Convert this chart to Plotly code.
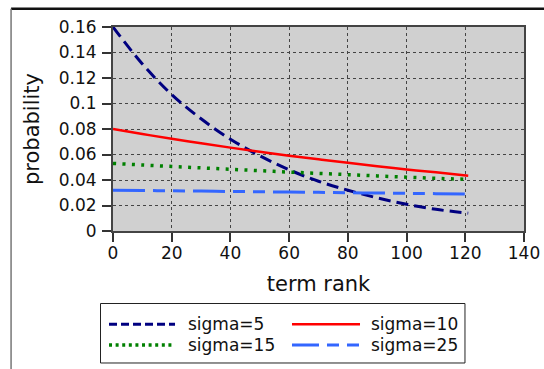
import plotly.graph_objects as go

# ---- data ----
rank = [0, 10, 20, 30, 40, 50, 60, 70, 80, 90, 100, 110, 121]
sigma5 = [0.160, 0.131, 0.107, 0.088, 0.072, 0.059, 0.048, 0.039, 0.032, 0.026, 0.021, 0.017, 0.014]
sigma10 = [0.080, 0.0761, 0.0723, 0.0688, 0.0654, 0.0622, 0.0591, 0.0562, 0.0535, 0.0508, 0.0483, 0.0460, 0.0434]
sigma15 = [0.053, 0.0518, 0.0506, 0.0495, 0.0484, 0.0473, 0.0462, 0.0452, 0.0442, 0.0432, 0.0422, 0.0413, 0.0405]
sigma25 = [0.032, 0.0318, 0.0315, 0.0313, 0.031, 0.0308, 0.0305, 0.0303, 0.030, 0.0298, 0.0295, 0.0293, 0.029]

series_names = ["sigma=5", "sigma=10", "sigma=15", "sigma=25"]
x_ticks = [0, 20, 40, 60, 80, 100, 120, 140]
y_ticks = [0, 0.02, 0.04, 0.06, 0.08, 0.1, 0.12, 0.14, 0.16]
y_tick_labels = ["0", "0.02", "0.04", "0.06", "0.08", "0.1", "0.12", "0.14", "0.16"]

FONT = "DejaVu Sans"

colors = ["#000080", "#ff0000", "#008000", "#3366ff"]
plot_dash = ["12px,6px", "solid", "3px,6.4px", "32px,8px,12px,8px,12px,8px"]
legend_dash = ["8px,4px", "solid", "3px,3.6px", "27px,8px,12px,8px,12px,8px"]
widths = [3, 2.5, 3.5, 3]

fig = go.Figure()
for name, ys, c, d, w in zip(series_names, [sigma5, sigma10, sigma15, sigma25], colors, plot_dash, widths):
    fig.add_trace(go.Scatter(x=rank, y=ys, mode="lines", name=name, showlegend=False,
                             line=dict(shape="spline", color=c, dash=d, width=w)))

axis_common = dict(
    showline=True, linecolor="#444", linewidth=2, mirror=True,
    ticks="outside", ticklen=9, tickwidth=1.5, tickcolor="#333",
    showgrid=True, gridcolor="#444", griddash="dot", gridwidth=1,
    zeroline=False, automargin=False,
    tickfont=dict(family=FONT, size=17, color="#111"),
)

# ---- frame and legend drawn as a boxed key below the plot (paper coordinates) ----
shapes = [
    dict(type="line", xref="paper", yref="paper", x0=-0.248, x1=1.05, y0=1.09, y1=1.09,
         line=dict(color="#111", width=2.5), layer="above"),
    dict(type="line", xref="paper", yref="paper", x0=-0.248, x1=-0.248, y0=1.09, y1=-0.68,
         line=dict(color="#777", width=1.5)),
    dict(type="rect", xref="paper", yref="paper", x0=-0.0304, x1=0.8564, y0=-0.3554, y1=-0.647,
         line=dict(color="#222", width=1), fillcolor="white"),
]
annotations = []
leg_cols = [(-0.0097, 0.1509, 0.1764), (0.4355, 0.601, 0.6229)]
leg_rows = [-0.4574, -0.5588]
for i, name in enumerate(series_names):
    col = leg_cols[i % 2]
    row = leg_rows[i // 2]
    shapes.append(dict(type="line", xref="paper", yref="paper", x0=col[0], x1=col[1], y0=row, y1=row,
                       line=dict(color=colors[i], width=widths[i], dash=legend_dash[i])))
    annotations.append(dict(xref="paper", yref="paper", x=col[2], y=row, text=name, showarrow=False,
                            xanchor="left", yanchor="middle",
                            font=dict(family=FONT, size=17, color="#111")))

fig.update_layout(
    width=544, height=369,
    margin=dict(l=113, r=20, t=27, b=138, autoexpand=False),
    paper_bgcolor="white", plot_bgcolor="#d0d0d0",
    font=dict(family=FONT, color="#111"),
    xaxis=dict(range=[0, 140], tickvals=x_ticks, ticklabelstandoff=-3,
               title=dict(text="term rank", font=dict(family=FONT, size=21), standoff=14),
               **axis_common),
    yaxis=dict(range=[0, 0.16], tickvals=y_ticks, ticktext=y_tick_labels, ticklabelstandoff=2,
               title=dict(text="probability", font=dict(family=FONT, size=21), standoff=13),
               **axis_common),
    showlegend=False,
    shapes=shapes,
    annotations=annotations,
)

# place the figure at the page corner, with no page scrolling
fig.write_html("out.html", config={"displayModeBar": False},
               post_script="document.body.style.margin='0';document.body.style.overflow='hidden';")
